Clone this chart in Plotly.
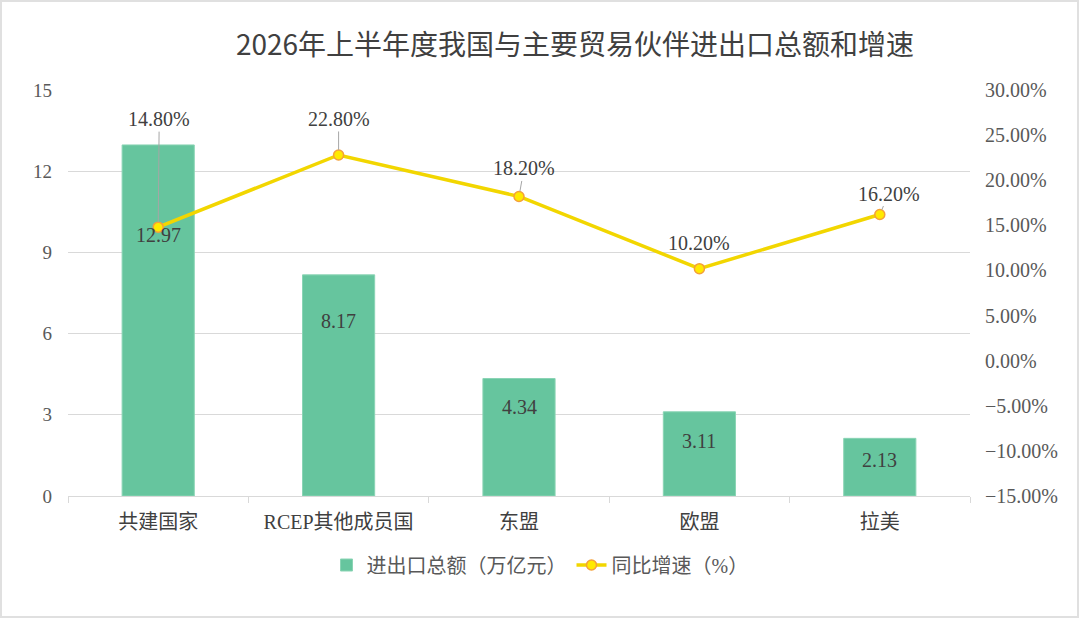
import plotly.graph_objects as go

# chart data
categories = ["共建国家", "RCEP其他成员国", "东盟", "欧盟", "拉美"]
trade_total = [12.97, 8.17, 4.34, 3.11, 2.13]      # 万亿元
growth_rate = [14.8, 22.8, 18.2, 10.2, 16.2]       # %
bar_name = "进出口总额（万亿元）"
line_name = "同比增速（%）"
title_text = "2026年上半年度我国与主要贸易伙伴进出口总额和增速"

# label placement (pixels)
bar_label_shift = [-90, -46, -28, -29, -22]
line_label_dx = [1, 0, 5, 0, 9]
line_label_dy = [-108, -36, -28, -26, -21]
line_label_arrow = [True, True, True, False, True]

W, H = 1080, 619
L, R, T, B = 68, 110, 90, 123
pw, ph = W - L - R, H - T - B

serif = "Liberation Serif, Noto Sans CJK SC"
sans = "Noto Sans CJK SC, Noto Sans"

fig = go.Figure()
fig.add_trace(go.Bar(
    x=categories, y=trade_total, name=bar_name,
    marker=dict(color="#66C59E", line=dict(color="#8AD4B4", width=1)),
    width=0.4, yaxis="y",
))
fig.add_trace(go.Scatter(
    x=categories, y=growth_rate, name=line_name, mode="lines+markers",
    line=dict(color="#F2D600", width=3.5),
    marker=dict(size=10, color="#FFEA00", line=dict(color="#F4A03A", width=1.5)),
    yaxis="y2",
))

annotations = []
for c, v, s in zip(categories, trade_total, bar_label_shift):
    annotations.append(dict(
        x=c, y=v, xref="x", yref="y", text=f"{v:.2f}", showarrow=False,
        yshift=s, font=dict(family=serif, size=20, color="#404040"),
    ))
for c, g, dx, dy, arr in zip(categories, growth_rate, line_label_dx, line_label_dy, line_label_arrow):
    if arr:
        annotations.append(dict(
            x=c, y=g, xref="x", yref="y2", text=f"{g:.2f}%",
            showarrow=True, arrowhead=0, arrowwidth=1, arrowcolor="#A6A6A6",
            ax=dx, ay=dy, standoff=5,
            font=dict(family=serif, size=20, color="#404040"),
        ))
    else:
        annotations.append(dict(
            x=c, y=g, xref="x", yref="y2", text=f"{g:.2f}%", showarrow=False,
            xshift=dx, yshift=-dy, font=dict(family=serif, size=20, color="#404040"),
        ))

fig.update_layout(
    width=W, height=H,
    margin=dict(l=L, r=R, t=T, b=B),
    paper_bgcolor="white", plot_bgcolor="white",
    title=dict(text=title_text, x=575 / W, xanchor="center", y=1 - 45 / H, yanchor="middle",
               font=dict(family=sans, size=28, color="#404040")),
    font=dict(family=serif, size=18, color="#595959"),
    xaxis=dict(
        showline=True, linecolor="#D9D9D9", linewidth=1,
        ticks="outside", tickson="boundaries", ticklen=6, tickcolor="#D9D9D9",
        tickfont=dict(family=serif, size=20, color="#404040"),
        ticklabelstandoff=8,
    ),
    yaxis=dict(
        range=[0, 15], dtick=3, showgrid=True, gridcolor="#D9D9D9", gridwidth=1,
        zeroline=False, showline=False, tickfont=dict(family=serif, size=19, color="#595959"),
        ticklabelstandoff=15,
    ),
    yaxis2=dict(
        range=[-15, 30], dtick=5, overlaying="y", side="right", showgrid=False,
        zeroline=False, showline=False, ticksuffix="%", tickformat=".2f",
        tickfont=dict(family=serif, size=20, color="#595959"),
        ticklabelstandoff=14,
    ),
    legend=dict(
        orientation="h", x=(540 - L) / pw, xanchor="center",
        y=-(565 - (T + ph)) / ph, yanchor="middle",
        font=dict(family=serif, size=20, color="#595959"), traceorder="normal",
    ),
    bargap=0.6,
    annotations=annotations,
    shapes=[dict(
        type="rect", xref="paper", yref="paper",
        x0=-(L - 1) / pw, x1=1 + (R - 2) / pw,
        y0=-(B - 2) / ph, y1=1 + (T - 1) / ph,
        line=dict(color="#E0E0E0", width=2), layer="below",
    )],
)

fig.write_html("out.html", config={"displayModeBar": False},
               post_script="document.body.style.margin='0px';")
